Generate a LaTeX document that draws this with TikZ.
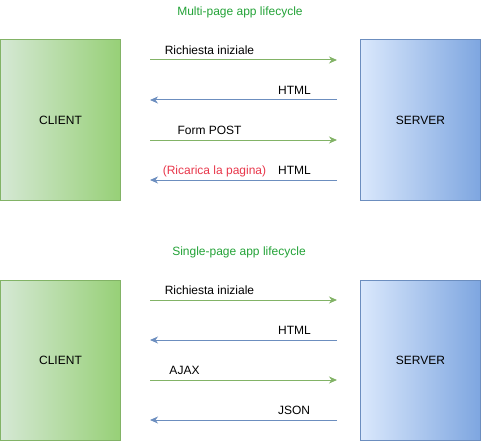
\documentclass[tikz,border=0pt]{standalone}
\usepackage{fontspec}
\setmainfont{Liberation Sans}
\usetikzlibrary{arrows.meta}
\definecolor{verdebordo}{HTML}{82B366}
\definecolor{verdechiaro}{HTML}{D5E8D4}
\definecolor{verdescuro}{HTML}{97D077}
\definecolor{blubordo}{HTML}{6C8EBF}
\definecolor{bluchiaro}{HTML}{DAE8FC}
\definecolor{bluscuro}{HTML}{7EA6E0}
\definecolor{titoloverde}{HTML}{22A236}
\definecolor{rossotesto}{HTML}{E8364A}
\tikzset{
  cliente/.style={draw=verdebordo,left color=verdechiaro,right color=verdescuro,line width=1pt,minimum width=120pt,minimum height=160pt,inner sep=0pt,font=\fontsize{12}{14}\selectfont},
  servente/.style={draw=blubordo,left color=bluchiaro,right color=bluscuro,line width=1pt,minimum width=120pt,minimum height=160pt,inner sep=0pt,font=\fontsize{12}{14}\selectfont},
  etich/.style={anchor=base,inner sep=0pt,font=\fontsize{12}{14}\selectfont},
  titolo/.style={etich,text=titoloverde},
  richiesta/.style={-{Stealth[length=8pt,width=7pt,inset=2.5pt]},draw=verdebordo,line width=1pt},
  risposta/.style={-{Stealth[length=8pt,width=7pt,inset=2.5pt]},draw=blubordo,line width=1pt}
}
\begin{document}
\begin{tikzpicture}[x=1pt,y=-1pt]
\useasboundingbox (0,0) rectangle (481,441);
% multi-page
\node[titolo] (t1) at (240,15.3) {Multi-page app lifecycle};
\node[cliente] (c1) at (60.5,120) {CLIENT};
\node[servente] (s1) at (420.5,120) {SERVER};
\foreach \i/\y in {1/60,2/100,3/140,4/180} {
  \coordinate (a\i) at (150,\y);
  \coordinate (b\i) at (337,\y);
}
\draw[richiesta] (a1) -- (b1);
\draw[risposta] (b2) -- (a2);
\draw[richiesta] (a3) -- (b3);
\draw[risposta] (b4) -- (a4);
\node[etich] (l1) at (209.5,54.3) {Richiesta iniziale};
\node[etich] (l2) at (294.5,94.3) {HTML};
\node[etich] (l3) at (209.5,134.3) {Form POST};
\node[etich,text=rossotesto] (l4) at (214.5,174.3) {(Ricarica la pagina)};
\node[etich] (l5) at (294.5,174.3) {HTML};
% single-page
\node[titolo] (t2) at (239,255.3) {Single-page app lifecycle};
\node[cliente] (c2) at (60.5,360) {CLIENT};
\node[servente] (s2) at (420.5,360) {SERVER};
\foreach \i/\y in {5/300,6/340,7/380,8/420} {
  \coordinate (a\i) at (150,\y);
  \coordinate (b\i) at (337,\y);
}
\draw[richiesta] (a5) -- (b5);
\draw[risposta] (b6) -- (a6);
\draw[richiesta] (a7) -- (b7);
\draw[risposta] (b8) -- (a8);
\node[etich] (m1) at (209.5,294.3) {Richiesta iniziale};
\node[etich] (m2) at (294.5,334.3) {HTML};
\node[etich] (m3) at (184.5,374.3) {AJAX};
\node[etich] (m4) at (294,414.3) {JSON};
\end{tikzpicture}
\end{document}
